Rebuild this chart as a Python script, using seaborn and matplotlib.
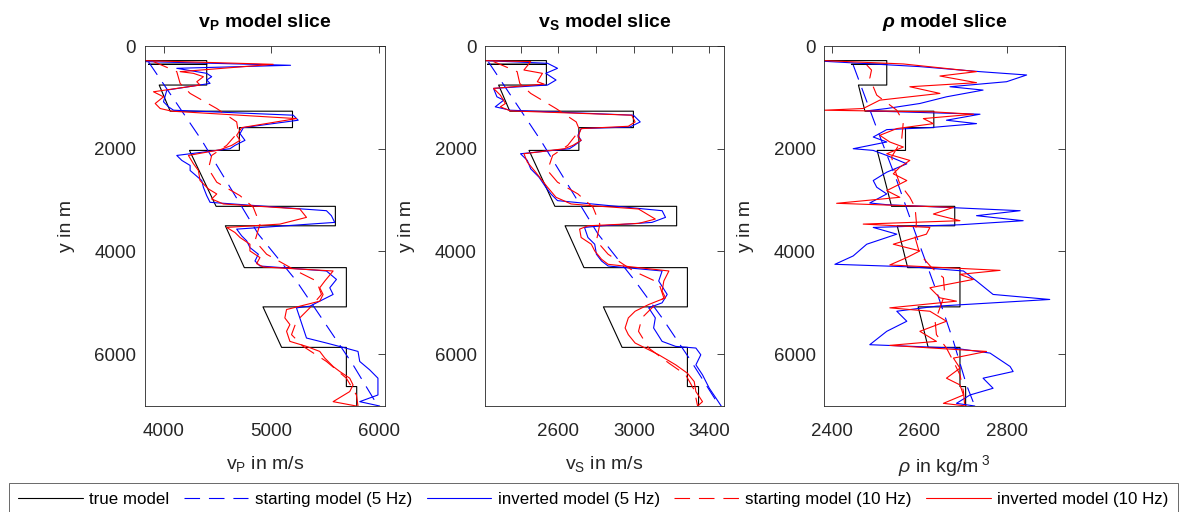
import matplotlib
matplotlib.use("Agg")
import matplotlib.pyplot as plt
import seaborn as sns

# ---------------- data (depth in m) ----------------
TRUE_DEPTH = [284, 284, 356, 356, 356, 760, 760, 1269, 1269, 1589, 1589, 2033, 2033,
              3122, 3122, 3501, 3501, 4316, 4316, 5080, 5080, 5869, 5869, 6632, 6632, 7011]
VP_TRUE = [3824, 4401, 4401, 3861, 4401, 4401, 3960, 4062, 5197, 5197, 4704, 4704, 4241,
           4488, 5595, 5595, 4574, 4750, 5697, 5697, 4923, 5096, 5697, 5697, 5793, 5793]
VS_TRUE = [2212, 2537, 2537, 2225, 2537, 2537, 2284, 2343, 2998, 2998, 2709, 2709, 2445,
           2582, 3227, 3227, 2636, 2736, 3284, 3284, 2839, 2938, 3284, 3284, 3343, 3343]
RHO_TRUE = [2381, 2525, 2525, 2444, 2525, 2525, 2460, 2475, 2633, 2633, 2568, 2568, 2503,
            2536, 2681, 2681, 2549, 2573, 2693, 2693, 2597, 2620, 2693, 2693, 2706, 2706]

# starting model 5 Hz
VP_START5 = [3861, 4355, 4880, 5234, 5466, 5759, 5990]
VP_START5_D = [310, 1837, 3664, 4577, 5295, 6209, 7011]
VS_START5 = [2230, 2507, 2811, 3007, 3150, 3293, 3454]
VS_START5_D = [310, 1837, 3664, 4577, 5295, 6078, 7011]
RHO_START5 = [2448, 2498, 2548, 2597, 2639, 2678, 2708, 2727]
RHO_START5_D = [369, 1511, 2620, 3794, 4773, 5752, 6600, 7011]

# starting model 10 Hz
VP_START10 = [3907, 4123, 4154, 4247, 4494, 4679, 4694, 4586, 4447, 4417, 4494, 4710, 4833,
              4895, 4849, 4957, 5234, 5420, 5466, 5358, 5234, 5188, 5296, 5512, 5697, 5790, 5805]
VP_START10_D = [303, 499, 728, 923, 1217, 1478, 1674, 1935, 2131, 2392, 2652, 2914, 3142,
                3468, 3794, 4055, 4381, 4577, 4838, 5099, 5360, 5621, 5850, 6143, 6469, 6796, 7011]
VS_START10 = [2257, 2382, 2396, 2454, 2588, 2695, 2713, 2650, 2570, 2543, 2596, 2704, 2784,
              2820, 2802, 2864, 2998, 3132, 3159, 3096, 3043, 3025, 3079, 3186, 3275, 3320, 3338]
VS_START10_D = [303, 499, 728, 923, 1217, 1478, 1641, 1935, 2131, 2424, 2652, 2881, 3142,
                3468, 3794, 4055, 4381, 4610, 4904, 5099, 5295, 5556, 5882, 6176, 6404, 6698, 7011]
RHO_START10 = [2479, 2490, 2486, 2502, 2548, 2563, 2559, 2536, 2544, 2555, 2578, 2590, 2593,
               2590, 2601, 2628, 2655, 2658, 2647, 2636, 2639, 2662, 2678, 2693, 2701, 2704]
RHO_START10_D = [369, 467, 630, 956, 1250, 1478, 1837, 2163, 2424, 2685, 2946, 3142, 3435,
                 3729, 4055, 4316, 4512, 4838, 5099, 5360, 5621, 5882, 6143, 6404, 6730, 7011]

# inverted model 5 Hz
VP_INV5 = [3824, 5179, 4123, 4401, 4447, 4401, 4432, 4031, 4000, 4046, 4093, 5204, 5250,
           4741, 4710, 4756, 4663, 4617, 4123, 4170, 4247, 4247, 4355, 4370, 4401, 4432,
           5512, 5558, 5589, 4679, 4725, 4772, 4802, 4880, 4849, 4895, 5512, 5605, 5543,
           5574, 5450, 5358, 5234, 5265, 5296, 5327, 5512, 5666, 5805, 5821, 5913, 5990,
           5990, 5821, 6006]
VP_INV5_D = [303, 375, 434, 532, 597, 662, 728, 858, 1086, 1184, 1250, 1347, 1445,
             1589, 1706, 1837, 1935, 2000, 2131, 2228, 2326, 2424, 2620, 2750, 2914, 3044,
             3207, 3304, 3435, 3566, 3696, 3794, 3925, 4055, 4186, 4284, 4381, 4545, 4708,
             4838, 4969, 5067, 5099, 5295, 5491, 5687, 5784, 5869, 5948, 6143, 6306, 6469,
             6796, 6926, 7011]
VS_INV5 = [2212, 2543, 2596, 2534, 2588, 2543, 2257, 2275, 2311, 2266, 2346, 2998, 3034,
           2980, 2721, 2704, 2721, 2686, 2659, 2400, 2436, 2454, 2498, 2534, 2561, 2596,
           3150, 3168, 3096, 2829, 2739, 2757, 2793, 2802, 2829, 2864, 3150, 3132, 3177,
           3150, 3079, 3114, 3105, 3150, 3222, 3329, 3355, 3329, 3364, 3400, 3436, 3463]
VS_INV5_D = [284, 336, 434, 532, 662, 760, 825, 989, 1054, 1184, 1250, 1347, 1478,
             1576, 1608, 1739, 1837, 1935, 2000, 2098, 2228, 2392, 2555, 2750, 2881, 3011,
             3207, 3337, 3435, 3501, 3533, 3729, 3860, 4055, 4186, 4284, 4381, 4577, 4838,
             5001, 5099, 5295, 5491, 5752, 5850, 5882, 6013, 6209, 6404, 6665, 6861, 7011]
RHO_INV5 = [2381, 2601, 2739, 2846, 2800, 2670, 2746, 2662, 2601, 2525, 2479, 2739, 2662,
            2731, 2624, 2525, 2494, 2525, 2448, 2494, 2525, 2571, 2525, 2494, 2502, 2525,
            2486, 2525, 2831, 2731, 2838, 2693, 2494, 2548, 2479, 2448, 2406, 2586, 2701,
            2731, 2769, 2899, 2639, 2548, 2571, 2525, 2486, 2586, 2678, 2762, 2808, 2815,
            2746, 2769, 2716, 2685, 2727]
RHO_INV5_D = [297, 401, 499, 564, 695, 793, 858, 989, 1119, 1217, 1263, 1328, 1445,
              1511, 1589, 1628, 1772, 1869, 2000, 2033, 2131, 2294, 2457, 2620, 2750, 2881,
              3057, 3090, 3207, 3304, 3402, 3481, 3533, 3664, 3860, 4088, 4251, 4303, 4381,
              4577, 4838, 4936, 5067, 5165, 5360, 5556, 5817, 5850, 5882, 5980, 6241, 6339,
              6469, 6665, 6796, 6959, 7011]

# inverted model 10 Hz
VP_INV10 = [3824, 5018, 4154, 4278, 4370, 4309, 4339, 3907, 4000, 3923, 3969, 4077, 5234,
            4725, 4679, 4710, 4633, 4525, 4231, 4278, 4324, 4339, 4417, 4494, 4447, 4555,
            5265, 5327, 5080, 4586, 4663, 4710, 4802, 4802, 4895, 4864, 4926, 5574, 5497,
            5450, 5481, 5450, 5265, 5142, 5126, 5173, 5142, 5173, 5327, 5450, 5497, 5574,
            5636, 5728, 5759, 5728, 5574, 5790]
VP_INV10_D = [284, 356, 499, 532, 597, 695, 760, 891, 989, 1119, 1217, 1269, 1413,
              1589, 1739, 1837, 1935, 2020, 2131, 2294, 2424, 2620, 2783, 2881, 2979, 3076,
              3174, 3337, 3468, 3533, 3631, 3729, 3860, 3990, 4120, 4238, 4303, 4381, 4577,
              4708, 4838, 4969, 5067, 5132, 5295, 5425, 5556, 5752, 5850, 5948, 6078, 6241,
              6339, 6469, 6600, 6730, 6926, 7011]
VS_INV10 = [2212, 2454, 2418, 2516, 2489, 2525, 2257, 2293, 2320, 2293, 2346, 2989, 3007,
            2971, 2721, 2704, 2721, 2677, 2632, 2418, 2436, 2480, 2543, 2588, 2668, 2775,
            3025, 3114, 3025, 2757, 2713, 2721, 2775, 2793, 2829, 2864, 3186, 3159, 3150,
            3168, 3079, 3007, 2971, 2954, 2971, 3007, 3061, 3132, 3222, 3284, 3320, 3329,
            3364, 3338]
VS_INV10_D = [284, 303, 467, 532, 695, 741, 825, 956, 1119, 1184, 1263, 1347, 1478,
              1563, 1608, 1772, 1837, 1935, 2000, 2098, 2261, 2457, 2750, 2946, 3076, 3109,
              3174, 3370, 3455, 3501, 3566, 3729, 3860, 3990, 4153, 4251, 4381, 4577, 4773,
              4904, 5034, 5165, 5295, 5491, 5621, 5784, 5882, 6013, 6209, 6372, 6535, 6730,
              6926, 7011]
RHO_INV10 = [2381, 2563, 2731, 2647, 2731, 2578, 2647, 2509, 2471, 2381, 2632, 2724, 2609,
             2632, 2548, 2509, 2532, 2563, 2525, 2578, 2555, 2540, 2571, 2525, 2555, 2410,
             2678, 2632, 2693, 2471, 2624, 2616, 2540, 2601, 2571, 2532, 2785, 2693, 2724,
             2624, 2647, 2685, 2532, 2624, 2662, 2601, 2639, 2532, 2754, 2678, 2693, 2662,
             2693, 2701, 2655, 2708]
RHO_INV10_D = [284, 349, 499, 584, 714, 793, 923, 1054, 1217, 1250, 1282, 1328, 1413,
               1511, 1608, 1739, 1869, 1967, 2098, 2228, 2359, 2489, 2620, 2816, 2946, 3063,
               3142, 3272, 3402, 3468, 3533, 3664, 3860, 3990, 4120, 4264, 4369, 4447, 4545,
               4708, 4904, 4969, 5099, 5165, 5360, 5556, 5752, 5830, 5948, 6078, 6274, 6469,
               6600, 6796, 6959, 7011]

# axis settings / text
Y_LIM = (0, 7011)
Y_TICKS = [0, 2000, 4000, 6000]
VP_LIM = (3824, 6055)
VS_LIM = (2212, 3478)
RHO_LIM = (2381, 2934)
VP_TICKS = [4000, 5000, 6000]
VS_TICKS = [2400, 2600, 2800, 3000, 3200, 3400]
VS_TICKLABELS = ["", "2600", "", "3000", "", "3400"]
RHO_TICKS = [2400, 2600, 2800]
LEGEND_LABELS = ["true model", "starting model (5 Hz)", "inverted model (5 Hz)",
                 "starting model (10 Hz)", "inverted model (10 Hz)"]

# ---------------- style ----------------
sns.set_theme(style="white")
plt.rcParams['font.family'] = ['Liberation Sans', 'DejaVu Sans']
plt.rcParams['mathtext.fontset'] = 'custom'
plt.rcParams['mathtext.rm'] = 'Liberation Sans'
plt.rcParams['mathtext.it'] = 'Liberation Sans:italic'
plt.rcParams['mathtext.bf'] = 'Liberation Sans:bold'
plt.rcParams['mathtext.bfit'] = 'Liberation Sans:italic:bold'

AX_COL = '#262626'
LW = 0.8
DASH = (0, (14, 8))

fig = plt.figure(figsize=(11.79, 5.12), dpi=100)
positions = [[0.1226, 0.2070, 0.2039, 0.7031],
             [0.4114, 0.2070, 0.2027, 0.7031],
             [0.6989, 0.2070, 0.2044, 0.7031]]

panels = [
    dict(true=VP_TRUE, s5=(VP_START5, VP_START5_D), i5=(VP_INV5, VP_INV5_D),
         s10=(VP_START10, VP_START10_D), i10=(VP_INV10, VP_INV10_D),
         xlim=VP_LIM, xticks=VP_TICKS, xticklabels=[str(t) for t in VP_TICKS],
         title=r"$\mathbf{v_P}$ model slice", xlabel=r"$\mathregular{v_P}$ in m/s"),
    dict(true=VS_TRUE, s5=(VS_START5, VS_START5_D), i5=(VS_INV5, VS_INV5_D),
         s10=(VS_START10, VS_START10_D), i10=(VS_INV10, VS_INV10_D),
         xlim=VS_LIM, xticks=VS_TICKS, xticklabels=VS_TICKLABELS,
         title=r"$\mathbf{v_S}$ model slice", xlabel=r"$\mathregular{v_S}$ in m/s"),
    dict(true=RHO_TRUE, s5=(RHO_START5, RHO_START5_D), i5=(RHO_INV5, RHO_INV5_D),
         s10=(RHO_START10, RHO_START10_D), i10=(RHO_INV10, RHO_INV10_D),
         xlim=RHO_LIM, xticks=RHO_TICKS, xticklabels=[str(t) for t in RHO_TICKS],
         title=r"$\mathbfit{\rho}$ model slice", xlabel=r"$\mathit{\rho}$ in kg/m$\mathregular{^{\ 3}}$"),
]


def draw(ax, x, y, color, ls):
    sns.lineplot(x=x, y=y, sort=False, estimator=None, color=color, linestyle=ls,
                 linewidth=LW, ax=ax, legend=False)


axes = []
for pos, p in zip(positions, panels):
    ax = fig.add_axes(pos)
    axes.append(ax)
    draw(ax, p['true'], TRUE_DEPTH, 'black', '-')
    draw(ax, p['s5'][0], p['s5'][1], '#0000FF', DASH)
    draw(ax, p['i5'][0], p['i5'][1], '#0000FF', '-')
    draw(ax, p['s10'][0], p['s10'][1], '#FF0000', DASH)
    draw(ax, p['i10'][0], p['i10'][1], '#FF0000', '-')
    ax.set_xlim(*p['xlim'])
    ax.set_ylim(Y_LIM[1], Y_LIM[0])
    ax.set_yticks(Y_TICKS)
    ax.set_xticks(p['xticks'])
    ax.set_xticklabels(p['xticklabels'])
    ax.tick_params(direction='in', top=True, right=True, length=5, width=0.6,
                   color=AX_COL, labelcolor=AX_COL, labelsize=13.5)
    ax.tick_params(axis='x', pad=12)
    ax.tick_params(axis='y', pad=6)
    for s in ax.spines.values():
        s.set_color(AX_COL)
        s.set_linewidth(0.6)
        s.set_visible(True)
    ax.set_title(p['title'], fontsize=14, fontweight='bold', color='black', pad=14)
    ax.set_xlabel(p['xlabel'], fontsize=14, color=AX_COL, labelpad=10)
    ax.set_ylabel("y in m", fontsize=14, color=AX_COL, labelpad=14)

handles = axes[0].get_lines()[:5]
leg = fig.legend(handles, LEGEND_LABELS, loc='upper left', ncol=5, mode='expand',
                 bbox_to_anchor=(9 / 1179, 0.0, 1169 / 1179, 1 - 483 / 512),
                 fontsize=12.2, frameon=True, fancybox=False, borderpad=0.55,
                 handlelength=3.8, handletextpad=0.4, columnspacing=0.7,
                 borderaxespad=0.0)
leg.get_frame().set_edgecolor(AX_COL)
leg.get_frame().set_linewidth(0.6)
for t in leg.get_texts():
    t.set_color('black')

fig.savefig("out.png", dpi=100)
